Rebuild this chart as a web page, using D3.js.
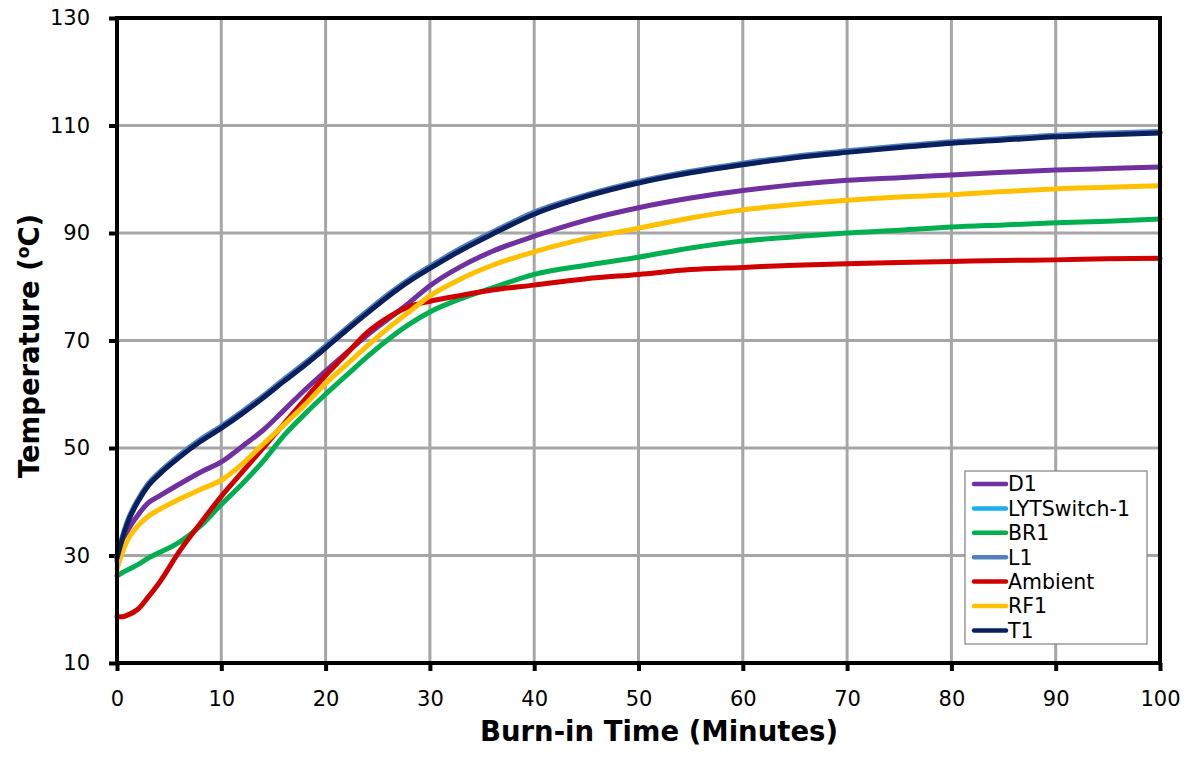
<!DOCTYPE html>
<html><head><meta charset="utf-8">
<script src="https://cdn.jsdelivr.net/npm/d3@7"></script>
<style>body{margin:0;background:#fff}svg{display:block}text{font-family:"DejaVu Sans",Verdana,sans-serif}</style>
</head><body>
<svg id="c" width="1188" height="757"></svg>
<script>
const time = [0,0.5,1,2,3,4,6,8,10,12,14,16,18,20,22,24,26,28,30,33,36,40,45,50,55,60,65,70,75,80,85,90,95,100];
const D1 =      [29,32,34.5,37.5,39.8,41,43.3,45.5,47.4,50.3,53.3,57,60.8,64.3,67.7,71,74,77,80.2,83.8,86.6,89.4,92.4,94.7,96.5,97.9,99,99.8,100.3,100.8,101.3,101.7,102,102.3];
const T1 =      [29.5,33,36,40,43,45,48.3,51.2,53.7,56.4,59.3,62.4,65.4,68.6,71.9,75.1,78.2,81,83.4,86.8,89.8,93.5,96.8,99.3,101.2,102.7,104,105,105.9,106.7,107.3,107.9,108.3,108.6];
const L1 =      [29.8,33.4,36.4,40.4,43.4,45.4,48.7,51.6,54.1,56.8,59.7,62.8,65.8,69,72.3,75.5,78.6,81.4,83.8,87.2,90.2,93.9,97.1,99.6,101.5,103,104.3,105.3,106.2,107,107.6,108.2,108.6,108.9];
const LYT =     [29.6,33.2,36.2,40.2,43.2,45.2,48.5,51.4,53.9,56.6,59.5,62.6,65.6,68.8,72.1,75.3,78.4,81.2,83.6,87,90,93.7,96.9,99.4,101.3,102.8,104.1,105.1,106,106.8,107.4,108,108.4,108.7];
const BR1 =     [26.2,26.8,27.3,28.3,29.5,30.5,32.5,35.5,39.5,43.3,47.5,52.3,56.3,60,63.5,67,70.2,73,75.3,77.8,79.8,82.3,84,85.5,87.2,88.5,89.3,90,90.5,91.1,91.5,91.9,92.2,92.6];
const Ambient = [18.6,18.6,18.9,20,22.3,24.8,30.8,36,41,45.5,50,54.5,59,63.5,67.5,71.5,74.3,76.3,77.3,78.4,79.4,80.3,81.5,82.3,83.2,83.6,84,84.3,84.5,84.7,84.9,85,85.2,85.3];
const RF1 =     [27.5,30.5,32.8,35.5,37.3,38.5,40.5,42.3,44,47,50.7,54.3,58,62,65.5,69,72.3,75.3,78.3,81.5,84,86.5,89,90.9,92.8,94.3,95.3,96.1,96.7,97.1,97.7,98.2,98.5,98.8];
const seriesNames = ["D1","LYTSwitch-1","BR1","L1","Ambient","RF1","T1"];
const seriesData = [D1,LYT,BR1,L1,Ambient,RF1,T1];
const seriesColors = ["#7030a0","#1ab0ec","#00b050","#4f81bd","#d00000","#ffc000","#0a1f5e"];
const xTicks = [0,10,20,30,40,50,60,70,80,90,100];
const yTicks = [10,30,50,70,90,110,130];

const svg = d3.select("#c");
const L=117, R=1160, T=18, B=663;
const x = d3.scaleLinear().domain([0,100]).range([L,R]);
const y = d3.scaleLinear().domain([10,130]).range([B,T]);

// grid
svg.append("g").selectAll("line").data(xTicks.slice(1,-1)).join("line")
  .attr("x1",d=>x(d)).attr("x2",d=>x(d)).attr("y1",T).attr("y2",B)
  .attr("stroke","#a6a6a6").attr("stroke-width",3);
svg.append("g").selectAll("line").data(yTicks.slice(1,-1)).join("line")
  .attr("y1",d=>y(d)).attr("y2",d=>y(d)).attr("x1",L).attr("x2",R)
  .attr("stroke","#a6a6a6").attr("stroke-width",3);

// axes
const xAxis = svg.append("g").attr("transform",`translate(0,${B})`)
  .call(d3.axisBottom(x).tickValues(xTicks).tickSize(8).tickPadding(20));
const yAxis = svg.append("g").attr("transform",`translate(${L},0)`)
  .call(d3.axisLeft(y).tickValues(yTicks).tickSize(8).tickPadding(19));
[xAxis,yAxis].forEach(a=>{
  a.select(".domain").remove();
  a.selectAll("line").attr("stroke","#000").attr("stroke-width",4);
  a.selectAll("text").attr("font-size",21).attr("fill","#000").attr("font-family","DejaVu Sans");
});

// lines
const line = d3.line().x((d,i)=>x(time[i])).y(d=>y(d)).curve(d3.curveMonotoneX);
svg.append("g").selectAll("path").data(seriesData).join("path")
  .attr("d",d=>line(d)).attr("fill","none")
  .attr("stroke",(d,i)=>seriesColors[i]).attr("stroke-width",5)
  .attr("stroke-linejoin","round").attr("stroke-linecap","round");

// frame
svg.append("rect").attr("x",L).attr("y",T).attr("width",R-L).attr("height",B-T)
  .attr("fill","none").attr("stroke","#000").attr("stroke-width",4);

// axis titles
svg.append("text").attr("x",659).attr("y",741).attr("text-anchor","middle")
  .attr("font-size",27.5).attr("font-weight","bold").text("Burn-in Time (Minutes)");
const yt = svg.append("text").attr("transform",`translate(39,346) rotate(-90)`)
  .attr("text-anchor","middle").attr("font-size",27.5).attr("font-weight","bold");
yt.append("tspan").text("Temperature (");
yt.append("tspan").attr("font-size",17).attr("dy",-10).text("o");
yt.append("tspan").attr("dy",10).text("C)");

// legend
const lg = svg.append("g");
lg.append("rect").attr("x",965).attr("y",471).attr("width",182).attr("height",173)
  .attr("fill","#fff").attr("stroke","#808080").attr("stroke-width",1.2);
const items = lg.selectAll("g.it").data(seriesNames).join("g").attr("class","it")
  .attr("transform",(d,i)=>`translate(0,${484+i*24.4})`);
items.append("line").attr("x1",974).attr("x2",1006).attr("y1",0).attr("y2",0)
  .attr("stroke",(d,i)=>seriesColors[i]).attr("stroke-width",4.5).attr("stroke-linecap","round");
items.append("text").attr("x",1008).attr("y",0).attr("dy","0.36em")
  .attr("font-size",20.5).text(d=>d);
</script>
</body></html>
